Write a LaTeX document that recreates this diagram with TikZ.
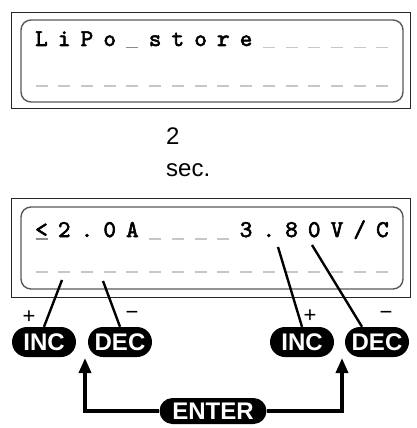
\documentclass[tikz,border=0pt]{standalone}
\usepackage{fontspec}
\setmainfont{Liberation Sans}
\newfontfamily\lcdfont{lmmono10-regular.otf}[FakeBold=2.5]
\usetikzlibrary{arrows.meta}

\tikzset{
  lcd outer/.style={
    draw=black!85,
    line width=0.9pt
  },
  lcd inner/.style={
    draw=black!65,
    line width=1.4pt,
    rounded corners=10pt
  },
  lcd char/.style={
    anchor=base,
    inner sep=0pt,
    font=\lcdfont\fontsize{24}{24}\selectfont
  },
  lcd dash/.style={draw=black!22, line width=1.2pt},
  cursor dash/.style={draw=black!45, line width=1.2pt},
  keycap/.style={
    fill=black,
    text=white,
    rounded corners=15pt,
    inner sep=0pt,
    minimum height=30pt,
    minimum width=64pt,
    font=\bfseries\fontsize{24}{24}\selectfont
  },
  signlabel/.style={inner sep=0pt, font=\fontsize{22}{22}\selectfont},
  wire/.style={line width=2.4pt},
  enter wire/.style={line width=3.5pt, -{Triangle[length=15pt,width=12pt]}},
}

\begin{document}
\begin{tikzpicture}[x=1pt, y=-1pt]
  \useasboundingbox (0,0) rectangle (417,428);

  % first screen
  \draw [lcd outer] (11,12) rectangle (410,108);
  \draw [lcd inner] (21,20) rectangle (403,102);
  \foreach \c [count=\i from 0] in {L,i,P,o,{},s,t,o,r,e}
    \node [lcd char] (top-\i) at ({41.5+22.73*\i},46) {\c};
  \draw [cursor dash] ({35.5+22.73*4},47.5) -- ++(12,0);
  \foreach \i in {10,...,15}
    \draw [lcd dash] ({35.5+22.73*\i},47.5) -- ++(12,0);
  \foreach \i in {0,...,15}
    \draw [lcd dash] ({35.5+22.73*\i},86) -- ++(12,0);

  % delay
  \node [anchor=base west, inner sep=0pt, font=\fontsize{24}{24}\selectfont] (delay-n) at (166,144) {2};
  \node [anchor=base west, inner sep=0pt, font=\fontsize{24}{24}\selectfont] (delay-u) at (166,176) {sec.};

  % second screen
  \draw [lcd outer] (11,198) rectangle (410,297);
  \draw [lcd inner] (21,207) rectangle (403,289);
  \foreach \c [count=\i from 0] in {<,2,.,0,A,{},{},{},{},3,.,8,0,V,/,C}
    \node [lcd char] (bot-\i) at ({41.5+22.73*\i},237) {\c};
  \draw [cursor dash] ({35.5+22.73*0},239) -- ++(12,0);
  \foreach \i in {5,...,8}
    \draw [lcd dash] ({35.5+22.73*\i},239) -- ++(12,0);
  \foreach \i in {0,...,15}
    \draw [lcd dash] ({35.5+22.73*\i},272) -- ++(12,0);

  % keys
  \node [keycap] (inc-l) at (44,342) {INC};
  \node [keycap] (dec-l) at (120,342) {DEC};
  \node [keycap] (inc-r) at (302,342) {INC};
  \node [keycap] (dec-r) at (377,342) {DEC};
  \node [keycap, minimum width=107pt, minimum height=26pt, rounded corners=13pt] (enter) at (213,411) {ENTER};

  \node [signlabel] (plus-l) at (29,317) {+};
  \node [signlabel] (minus-l) at (132,315) {−};
  \node [signlabel] (plus-r) at (310,316) {+};
  \node [signlabel] (minus-r) at (386,315) {−};

  % pointers to the digits
  \coordinate (seg-inc-l) at (62,280);
  \coordinate (seg-dec-l) at (103,281);
  \coordinate (seg-inc-r) at (278,247);
  \coordinate (seg-dec-r) at (312,245);
  \draw [wire] (seg-inc-l) -- (inc-l.north);
  \draw [wire] (seg-dec-l) -- (dec-l.north);
  \draw [wire] (seg-inc-r) -- (inc-r.north);
  \draw [wire] (seg-dec-r) -- ([xshift=-15pt]dec-r.north);

  % enter moves the cursor
  \coordinate (tip-l) at (85,358);
  \coordinate (tip-r) at (342,358);
  \draw [enter wire] (enter.west) -| (tip-l);
  \draw [enter wire] (enter.east) -| (tip-r);
\end{tikzpicture}
\end{document}
